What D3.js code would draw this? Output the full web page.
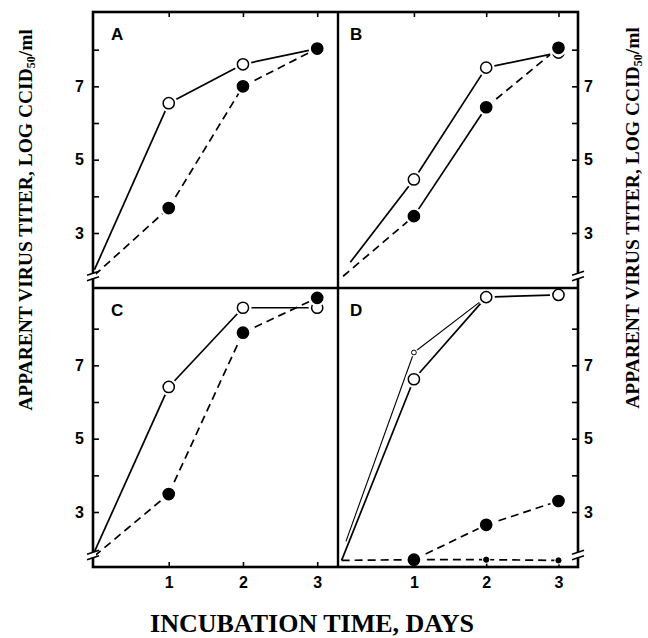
<!DOCTYPE html>
<html><head><meta charset="utf-8">
<script src="https://cdn.jsdelivr.net/npm/d3@7"></script>
<style>body{margin:0;background:#fff}</style>
</head><body><svg id="c" width="648" height="638"></svg>
<script>
// ---------- data ----------
const panelNames = ["A","B","C","D"];
const dayTicks = [1,2,3];
const yLabelTicks = [3,5,7];
const yMinorTicks = [3,4,5,6,7,8];
const breakValue = 1.82;
const xTitle = "INCUBATION TIME, DAYS";

// [day, log CCID50/ml]
const aOpen   = [[0,2.0],[1,6.54],[2,7.6],[3,8.03]];
const aFilled = [[0,1.85],[1,3.68],[2,7.0],[3,8.03]];
const bOpen   = [[0.12,2.2],[1,4.46],[2,7.51],[3,7.92]];
const bFilled = [[0.02,1.82],[1,3.46],[2,6.43],[3,8.05]];
const cOpen   = [[0,1.92],[1,6.41],[2,8.57],[3,8.57]];
const cFilled = [[0,1.8],[1,3.49],[2,7.89],[3,8.84]];
const dOpen   = [[0,1.68],[1,6.62],[2,8.86],[3,8.92]];
const dOpenSmall = [[0.06,2.2],[1,7.35],[2,8.86]];
const dFilled = [[0,1.68],[1,1.7],[2,2.65],[3,3.3]];
const dFilledSmall = [[1,1.7],[2,1.7],[3,1.68]];

// ---------- layout / styles ----------
const svg = d3.select("#c");
const cols = [{x0:93,x1:338,dom:[-0.02,3.28]},{x0:338,x1:578,dom:[-0.05,3.27]}];
const rows = [{y0:12,y1:288,r:[288,13]},{y0:288,y1:567,r:[567,292]}];
const yDomain = [1.5, 9.0];
const DASH = "8,5";

const panelSeries = [
  [ {d:aOpen, fill:false, segs:["s","s","s"]}, {d:aFilled, fill:true, segs:["d","d","d"]} ],
  [ {d:bOpen, fill:false, segs:["s","s","s"]}, {d:bFilled, fill:true, segs:["d","s","d"]} ],
  [ {d:cOpen, fill:false, segs:["s","s","s"]}, {d:cFilled, fill:true, segs:["d","d","d"]} ],
  [ {d:dOpenSmall, fill:false, small:true, thin:true, segs:["s","s"]},
    {d:dFilledSmall, fill:true, small:true, segs:["d","d"]},
    {d:dOpen, fill:false, segs:["s","s","s"]},
    {d:dFilled, fill:true, segs:["d","d","d"]} ]
];

const font = "'Liberation Sans', Arial, sans-serif";
const serif = "'Liberation Serif', 'Times New Roman', serif";

panelNames.forEach((name, i) => {
  const col = cols[i % 2], row = rows[Math.floor(i / 2)];
  const left = (i % 2 === 0), top = (i < 2);
  const x = d3.scaleLinear().domain(col.dom).range([col.x0, col.x1]);
  const y = d3.scaleLinear().domain(yDomain).range(row.r);
  const g = svg.append("g");

  // inner y ticks
  const axX = left ? col.x0 : col.x1;
  const tickAxis = (left ? d3.axisRight(y) : d3.axisLeft(y)).tickValues(yMinorTicks).tickSize(6).tickFormat("");
  const ta = g.append("g").attr("transform", `translate(${axX},0)`).call(tickAxis);
  ta.select(".domain").remove();
  ta.selectAll("line").attr("stroke", "#000").attr("stroke-width", 1.6);

  // y labels
  const labAxis = (left ? d3.axisLeft(y) : d3.axisRight(y)).tickValues(yLabelTicks).tickSize(0).tickPadding(left ? 9 : 6);
  const la = g.append("g").attr("transform", `translate(${axX},0)`).call(labAxis);
  la.select(".domain").remove();
  la.selectAll("text").attr("font-family", font).attr("font-weight", "bold").attr("font-size", 16).attr("fill", "#000");

  // x ticks (top row at top, bottom row at bottom) pointing inward
  const xAx = top ? d3.axisBottom(x) : d3.axisTop(x);
  const xa = g.append("g").attr("transform", `translate(0,${top ? row.y0 : row.y1})`)
    .call(xAx.tickValues(dayTicks).tickSize(5).tickFormat(""));
  xa.select(".domain").remove();
  xa.selectAll("line").attr("stroke", "#000").attr("stroke-width", 1.6);
  if (!top) {
    const xl = g.append("g").attr("transform", `translate(0,${row.y1})`)
      .call(d3.axisBottom(x).tickValues(dayTicks).tickFormat(d3.format("d")).tickSize(0).tickPadding(10));
    xl.select(".domain").remove();
    xl.selectAll("text").attr("font-family", font).attr("font-weight", "bold").attr("font-size", 16).attr("fill", "#000");
  }

  // series lines
  const series = panelSeries[i];
  series.forEach(s => {
    for (let k = 0; k < s.d.length - 1; k++) {
      g.append("path")
        .attr("d", d3.line().x(p => x(p[0])).y(p => y(p[1]))([s.d[k], s.d[k+1]]))
        .attr("fill", "none").attr("stroke", "#000")
        .attr("stroke-width", s.thin ? 1.1 : 1.7)
        .attr("stroke-dasharray", s.segs[k] === "d" ? DASH : null);
    }
  });
  // markers (with white halo to give gaps)
  series.forEach(s => {
    const pts = s.d.filter(p => p[0] >= 1);
    const r = s.small ? (s.fill ? 2.6 : 2.4) : 5.6;
    g.selectAll(null).data(pts).enter().append("circle")
      .attr("cx", p => x(p[0])).attr("cy", p => y(p[1]))
      .attr("r", r + (s.small ? 1.5 : 3)).attr("fill", "#fff");
    g.selectAll(null).data(pts).enter().append("circle")
      .attr("cx", p => x(p[0])).attr("cy", p => y(p[1]))
      .attr("r", r).attr("fill", s.fill ? "#000" : "#fff")
      .attr("stroke", "#000").attr("stroke-width", s.small ? 1 : 1.5);
  });

  // panel letter
  g.append("text").attr("x", col.x0 + (left ? 18 : 12)).attr("y", row.y0 + 28)
    .attr("font-family", font).attr("font-weight", "bold").attr("font-size", 17).text(name);
});

// borders
svg.append("rect").attr("x", 93).attr("y", 12).attr("width", 578-93).attr("height", 567-12)
  .attr("fill", "none").attr("stroke", "#000").attr("stroke-width", 2.6);
svg.append("line").attr("x1", 338).attr("x2", 338).attr("y1", 12).attr("y2", 567).attr("stroke", "#000").attr("stroke-width", 2.4);
svg.append("line").attr("x1", 93).attr("x2", 578).attr("y1", 288).attr("y2", 288).attr("stroke", "#000").attr("stroke-width", 2.4);

// axis breaks
panelNames.forEach((name, i) => {
  const col = cols[i % 2], row = rows[Math.floor(i / 2)];
  const y = d3.scaleLinear().domain(yDomain).range(row.r);
  const ax = (i % 2 === 0) ? col.x0 : col.x1;
  const yb = y(breakValue);
  svg.append("rect").attr("x", ax - 3).attr("y", yb - 3).attr("width", 6).attr("height", 5).attr("fill", "#fff");
  [-3, 2.5].forEach(off => {
    svg.append("line").attr("x1", ax - 6).attr("y1", yb + off + 2).attr("x2", ax + 6).attr("y2", yb + off - 2)
      .attr("stroke", "#000").attr("stroke-width", 1.6);
  });
});

// axis titles
svg.append("text").attr("x", 312).attr("y", 632).attr("text-anchor", "middle")
  .attr("font-family", serif).attr("font-weight", "bold").attr("font-size", 26).text(xTitle);

function yTitle(tx, ty) {
  const t = svg.append("text").attr("transform", `translate(${tx},${ty}) rotate(-90)`)
    .attr("text-anchor", "middle").attr("font-family", serif).attr("font-weight", "bold").attr("font-size", 19.5);
  t.append("tspan").text("APPARENT VIRUS TITER, LOG CCID");
  t.append("tspan").attr("font-size", 12).attr("dy", 3).text("50");
  t.append("tspan").attr("dy", -3).text("/ml");
}
yTitle(32, 220);
yTitle(639, 218);
</script></body></html>
